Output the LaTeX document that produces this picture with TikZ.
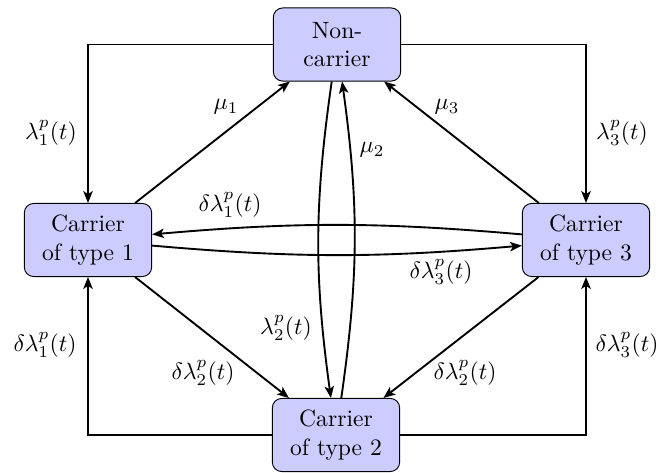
\documentclass[tikz,border=0pt]{standalone}
\usetikzlibrary{arrows.meta}
\begin{document}
\begin{tikzpicture}[x=0.424pt,y=-0.424pt,
  state/.style={draw, fill=blue!20, rounded corners=4pt, align=center,
    minimum width=54pt, minimum height=31pt, inner sep=2pt},
  conn/.style={thick, -{Stealth[length=5pt,width=4pt,inset=1.2pt]}},
  lab/.style={inner sep=0pt}]
\useasboundingbox (0,0) rectangle (659,473);
\node[state] (nc) at (337,44.5) {Non-\\carrier};
\node[state] (c1) at (88,240) {Carrier\\of type 1};
\node[state] (c3) at (586,240) {Carrier\\of type 3};
\node[state] (c2) at (336,435) {Carrier\\of type 2};

\draw[conn] (nc.west) -| (c1.north);
\draw[conn] (nc.east) -| (c3.north);
\draw[conn] (c2.west) -| (c1.south);
\draw[conn] (c2.east) -| (c3.south);

\draw[conn] (c1) -- (nc);
\draw[conn] (c3) -- (nc);
\draw[conn] (c1) -- (c2);
\draw[conn] (c3) -- (c2);

\draw[conn] (nc) to[bend right=8] (c2);
\draw[conn] (c2) to[bend right=8] (nc);
\draw[conn] (c3) to[bend right=5] (c1);
\draw[conn] (c1) to[bend right=5] (c3);

\node[lab] (l1) at (51,133) {$\lambda_1^p(t)$};
\node[lab] (l3) at (622,133) {$\lambda_3^p(t)$};
\node[lab] (m1) at (226,107) {$\mu_1$};
\node[lab] (m3) at (447,107) {$\mu_3$};
\node[lab] (m2) at (372,150) {$\mu_2$};
\node[lab] (l2) at (286,328) {$\lambda_2^p(t)$};
\node[lab] (d1u) at (230,205) {$\delta\lambda_1^p(t)$};
\node[lab] (d3l) at (441,272) {$\delta\lambda_3^p(t)$};
\node[lab] (d1) at (45,345) {$\delta\lambda_1^p(t)$};
\node[lab] (d3) at (627,345) {$\delta\lambda_3^p(t)$};
\node[lab] (d2l) at (203,373) {$\delta\lambda_2^p(t)$};
\node[lab] (d2r) at (465,373) {$\delta\lambda_2^p(t)$};
\end{tikzpicture}
\end{document}
